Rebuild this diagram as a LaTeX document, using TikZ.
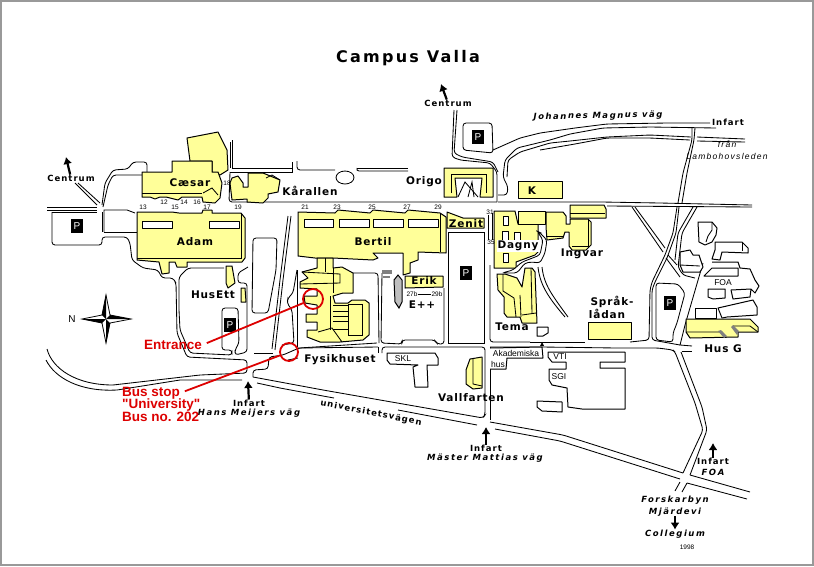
\documentclass[tikz,border=0pt]{standalone}
\usepackage{fontspec}
\setmainfont{Liberation Sans}
\newfontfamily\kartfont[LetterSpace=8]{DejaVu Sans}
\newfontfamily\rubrikfont[LetterSpace=14]{DejaVu Sans}
\newfontfamily\kartsmall[LetterSpace=12]{DejaVu Sans}
\newfontfamily\kartkursiv[LetterSpace=18]{DejaVu Sans}
\newfontfamily\kartthin[LetterSpace=15]{Liberation Sans}
\newfontfamily\rodfont{Liberation Sans}
\definecolor{husgul}{HTML}{FFFF99}
\definecolor{ramgra}{HTML}{999999}
\definecolor{pekrod}{HTML}{DD0000}
\tikzset{
  hus/.style={draw=black,fill=husgul,line width=1pt,line join=round},
  vit/.style={draw=black,fill=white,line width=1pt,line join=round},
  vag/.style={draw=black,line width=0.85pt,rounded corners=3pt},
  linje/.style={draw=black,line width=0.85pt},
  namn/.style={inner sep=0pt,font=\kartfont\bfseries\fontsize{10.5}{13}\selectfont},
  liten/.style={inner sep=0pt,font=\kartsmall\bfseries\fontsize{8.5}{11}\selectfont},
  kursiv/.style={inner sep=0pt,font=\kartkursiv\bfseries\itshape\fontsize{8.5}{11}\selectfont},
  tunn/.style={inner sep=0pt,font=\fontsize{8.5}{10}\selectfont},
  nummer/.style={inner sep=0pt,font=\fontsize{6.5}{8}\selectfont},
  pekare/.style={inner sep=0pt,text=pekrod,font=\rodfont\bfseries\fontsize{13.5}{15}\selectfont},
  ring/.style={circle,draw=pekrod,line width=1.8pt,inner sep=0pt},
  pekline/.style={draw=pekrod,line width=1.8pt,shorten <=5pt},
  pil/.style={draw=black,line width=2.2pt,-{Latex[length=7pt,width=9pt]}},
  pruta/.style={fill=black,text=white,inner sep=0pt,minimum width=12pt,minimum height=14pt,font=\fontsize{10}{12}\selectfont}
}
\usetikzlibrary{arrows.meta}
\begin{document}
\begin{tikzpicture}[x=1pt,y=-1pt]
\useasboundingbox (0,0) rectangle (814,566);
\fill[white] (0,0) rectangle (814,566);
\draw[ramgra,line width=2pt] (1,1) rectangle (813,565);
% vagar vaster
\draw[linje] (47,207) -- (97,207);
\draw[linje] (47,210) -- (97,210);
\draw[linje] (75,183) -- (97,205);
\draw[linje] (78,183) -- (100,203);
\draw[vag] (102,205) -- (105,183) -- (113,170) -- (128,169) -- (133,162) -- (147,162) -- (147,172);
\draw[vag] (103,207) -- (108,185) -- (113,175) -- (142,175);
\draw[vag] (52,212) -- (97,212);
\draw[vag] (52,212) -- (52,245) -- (102,245) -- (102,237) -- (127,237) -- (130,243) -- (132,260) -- (143,268) -- (158,270) -- (162,278) -- (173,278) -- (176,283) -- (177,333) -- (187,357) -- (247,360) -- (247,373) -- (200,375) -- (113,385);
\draw[linje] (113,385) .. controls (75,385) and (52,368) .. (47,349);
\draw[linje] (102,212) -- (102,232);
\draw[linje] (104,232) -- (104,210) -- (127,210) -- (135,213);
\draw[linje] (104,232) -- (137,232);
\draw[linje] (46,360) .. controls (55,378) and (80,392) .. (117,390) -- (180,380) -- (242,380);
% vagar norr
\draw[linje] (230,142) -- (230,168);
\draw[linje] (232,140) -- (232,168) -- (293,168);
\draw[vag] (230,172) -- (229,202) -- (280,202) -- (497,202);
\draw[linje] (230,172) -- (293,172);
\draw[linje] (292,162) -- (292,172);
\draw[vag] (297,161) -- (297,170) -- (335,170);
\draw[vag] (357,168) -- (356,171) -- (408,171);
\draw[linje] (357,168) -- (408,168);
\draw[linje] (345,177.5) ellipse (9 and 6.5);
\draw[vag] (454,110) -- (452,157) -- (460,160) -- (490,163) -- (497,172) -- (497,202);
\draw[vag] (457,110) -- (454,153) -- (462,157) -- (493,162) -- (498,172);
\draw[vag] (463,123) -- (492,123) -- (493,153) -- (463,150) -- cycle;
\draw[vag] (493,150) -- (520,138) -- (540,133) -- (575,128) -- (607,124) -- (667,123) -- (710,123);
\draw[vag] (716,128) -- (650,127) -- (603,128) -- (570,134) -- (550,140) -- (517,148) -- (505,160) -- (503,177) -- (508,187) -- (507,195) -- (498,195);
\draw[vag] (691,137) -- (650,135) -- (607,137) -- (570,141) -- (550,143) -- (520,152) -- (508,160) -- (507,177);
\draw[vag] (690,140) -- (650,138) -- (607,138) -- (575,144) -- (540,150);
\draw[linje] (697,137) -- (745,139);
\draw[linje] (697,141) -- (745,142);
\draw[vag] (498,202) -- (602,202) -- (660,203) -- (752,205);
\draw[vag] (607,206) -- (752,207);
% vagar oster
\draw[vag] (692,128) -- (692,140) -- (683,173) -- (678,203);
\draw[vag] (695,128) -- (694,140) -- (687,173) -- (682,203);
\draw[vag] (677,207) -- (673,233) -- (665,255) -- (652,282) -- (650,290) -- (649,340) -- (630,342);
\draw[vag] (679,207) -- (676,233) -- (667,258) -- (655,282) -- (652,290) -- (652,340) -- (680,345);
\draw[linje] (632,207) -- (663,252);
\draw[linje] (635,207) -- (665,248);
\draw[vag] (693,207) -- (678,233) -- (675,260);
\draw[vag] (697,207) -- (682,233) -- (678,267) -- (683,275) -- (695,278);
\draw[linje] (668,255) -- (677,265);
\draw[linje] (666,258) -- (680,277);
\draw[vag] (656,283) -- (678,284) -- (685,293) -- (677,323) -- (673,333) -- (673,342) -- (656,340) -- cycle;
\draw[linje] (703,263) -- (685,325) -- (680,345) -- (692,346);
\draw[linje] (682,351) -- (692,351);
\draw[vag] (530,342) -- (585,342);
\draw[vag] (490,347) -- (542,347) -- (617,348) -- (658,348) -- (673,350) -- (675,352) -- (695,403) -- (703,430) -- (683,473);
\draw[vag] (681,352) -- (702,407) -- (707,430) -- (690,475);
% vagar soder
\draw[vag] (280,382) -- (323,390) -- (483,418) -- (485,415) -- (485,347) -- (382,347) -- (382,353);
\draw[vag] (280,388) -- (323,396) -- (334,398);
\draw[linje] (398,410) -- (477,425);
\draw[vag] (490,422) -- (563,435) -- (683,473);
\draw[vag] (495,429) -- (560,441) -- (680,479);
\draw[linje] (690,475) -- (750,492);
\draw[linje] (687,483) -- (747,499);
\draw[linje] (680,482) -- (675,491);
\draw[linje] (687,483) -- (682,492);
\draw[vag] (490,420) -- (490,347);
\draw[vag] (490,265) -- (490,342) -- (530,342);
\draw[linje] (253,377) -- (280,382);
\draw[linje] (257,383) -- (280,388);
\draw[vag] (253,377) -- (253,370) -- (268,369) -- (269,357) -- (283,355) -- (299,348) -- (377,343);
\draw[vag] (254,353) -- (273,353);
\draw[linje] (298,358) -- (288,360);
\draw[linje] (298,348) -- (378,347);
\draw[linje] (378,347) -- (378,353);
% vagar mitten
\draw[vag] (253,238) -- (277,238) -- (276,270) -- (268,313) -- (252,313) -- cycle;
\draw[linje] (288,216) -- (280,280) -- (272,349);
\draw[linje] (291,216) -- (283,280) -- (275,350);
\draw[vag] (179,310) -- (179,277) -- (188,268) -- (224,268);
\draw[vag] (179,310) -- (180,330) -- (190,353) -- (232,355) -- (232,350) -- (222,350) -- (222,308) -- (238,308) -- (239,343) -- (235,350) -- (235,355) -- (247,352) -- (247,283) -- (238,283) -- (238,273) -- (248,267);
\draw[vag] (353,273) -- (378,273) -- (379,343);
\draw[vag] (297,270) -- (293,293) -- (288,298) -- (287,303) -- (292,310) -- (294,343) -- (282,345);
\draw[vag] (297,270) -- (297,347);
\draw[vag] (382,273) -- (381,343) -- (402,344) -- (402,340) -- (435,340) -- (437,344) -- (444,344) -- (444,288);
\draw[linje] (448,232) rectangle (484,343);
\draw[linje] (488,215) -- (488,240);
\draw[linje] (492,213) -- (492,240);
% vit byggnader
\draw[vit] (387,353) -- (435,353) -- (438,358) -- (438,365) -- (427,365) -- (428,387) -- (415,387) -- (413,367) -- (418,365) -- (390,364) -- (387,360) -- cycle;
\draw[vit] (490,348) -- (542,347) -- (543,358) -- (507,358) -- (506,369) -- (490,369);
\draw[vit] (548,352) -- (625,352) -- (625,362) -- (600,362) -- (600,368) -- (625,368) -- (625,409) -- (582,409) -- (568,407) -- (567,388) -- (552,385) -- (549,380) -- (549,369) -- (566,369) -- (566,362) -- (552,362) -- (548,357) -- cycle;
\draw[vit] (537,401) -- (562,402) -- (562,412) -- (542,411) -- (537,407) -- cycle;
\draw[vit] (537,327) -- (548,327) -- (548,333) -- (543,336) -- (537,336) -- cycle;
\fill[black] (542,342) -- (540,346) -- (544,346) -- cycle;
% FOA
\draw[vit] (698,222) -- (712,222) -- (717,228) -- (716,235) -- (712,242) -- (705,245) -- (699,242) -- cycle;
\draw[linje] (712,222) -- (712,230) -- (708,236) -- (706,242);
\draw[vit] (715,242) -- (742,242) -- (748,248) -- (748,253) -- (722,252) -- (720,260) -- (712,259) -- (715,250) -- cycle;
\draw[linje] (742,242) -- (742,251);
\draw[vit] (680,252) -- (690,250) -- (693,255) -- (699,255) -- (703,267) -- (700,272) -- (683,272) -- (680,265) -- cycle;
\draw[linje] (680,265) -- (700,266);
\draw[vit] (712,262) -- (738,262) -- (740,268) -- (750,269) -- (755,280) -- (759,286) -- (755,293) -- (751,289) -- (731,290) -- (733,299) -- (750,297) -- (751,289);
\draw[vit] (704,276) -- (712,268) -- (738,268) -- (738,276) -- cycle;
\draw[vit] (708,289) -- (725,289) -- (725,298) -- (713,299) -- (708,297) -- cycle;
\draw[vit] (695,308) -- (716,308) -- (716,318) -- (695,318) -- cycle;
\draw[vit] (718,308) -- (753,300) -- (757,307) -- (757,315) -- (727,317) -- (722,318) -- cycle;
% gula hus
\draw[hus] (187,138) -- (218,132) -- (227,150) -- (228,170) -- (220,175) -- (212,172) -- (212,161) -- (190,161) -- cycle;
\draw[hus] (142,172) -- (172,172) -- (172,161) -- (212,161) -- (212,172) -- (218,172) -- (222,183) -- (220,198) -- (215,203) -- (203,202) -- (202,197) -- (182,197) -- (178,200) -- (170,198) -- (166,197) -- (160,197) -- (155,199) -- (150,197) -- (147,197) -- (142,197) -- cycle;
\draw[linje] (142,193) -- (202,193);
\draw[linje] (203,193) -- (212,188) -- (218,195);
\draw[hus] (232,178) -- (238,176) -- (243,183) -- (243,187) -- (248,187) -- (248,173) -- (263,173) -- (280,180) -- (278,192) -- (268,194) -- (268,198) -- (263,203) -- (247,202) -- (247,199) -- (232,200) -- (230,183) -- cycle;
\draw[linje] (266,178) -- (272,175) -- (280,180);
\draw[hus] (137,212) -- (172,212) -- (179,213) -- (202,213) -- (203,210) -- (212,210) -- (212,213) -- (241,213) -- (245,218) -- (245,258) -- (242,262) -- (187,262) -- (187,267) -- (177,267) -- (175,262) -- (169,262) -- (169,273) -- (162,274) -- (159,262) -- (137,260) -- cycle;
\draw[linje] (137,258) -- (241,258) -- (241,213);
\draw[vit] (142,221) rectangle (172,228);
\draw[vit] (209,221) rectangle (239,228);
\draw[hus] (226,266) -- (232,266) -- (235,283) -- (228,288) -- (226,283) -- cycle;
\draw[hus] (241,288) -- (245,288) -- (246,302) -- (241,302) -- cycle;
\draw[hus] (298,212) -- (335,213) -- (338,210) -- (370,213) -- (373,210) -- (405,213) -- (408,210) -- (440,213) -- (446,217) -- (446,253) -- (418,252) -- (418,260) -- (410,263) -- (410,273) -- (403,275) -- (403,253) -- (373,253) -- (378,258) -- (373,260) -- (333,258) -- (315,258) -- (298,256) -- cycle;
\draw[linje] (440,213) -- (440,252);
\draw[vit] (304,219) rectangle (333,227);
\draw[vit] (339,219) rectangle (369,227);
\draw[vit] (373,219) rectangle (403,227);
\draw[vit] (408,219) rectangle (438,227);
% Fysikhuset
\draw[hus] (317,258) -- (333,258) -- (333,268) -- (342,267) -- (353,273) -- (353,293) -- (343,293) -- (333,296) -- (335,303) -- (348,303) -- (352,300) -- (365,300) -- (369,303) -- (369,335) -- (363,340) -- (340,342) -- (320,342) -- (307,337) -- (307,330) -- (317,330) -- (317,322) -- (306,322) -- (306,314) -- (317,314) -- (317,305) -- (305,303) -- (304,296) -- (317,296) -- (317,289) -- (300,288) -- (300,282) -- (308,278) -- (302,272) -- (317,268) -- cycle;
\draw[linje] (302,272) -- (340,274) -- (340,283) -- (300,284);
\draw[linje] (325,258) -- (325,272);
\draw[linje] (333,268) -- (333,293);
\draw[linje] (330,296) -- (330,330);
\draw[linje] (333,305) -- (348,305);
\draw[linje] (333,311) -- (348,311);
\draw[linje] (333,316) -- (348,316);
\draw[linje] (333,321) -- (348,321);
\draw[linje] (333,329) -- (348,329);
\draw[linje] (348,304) rectangle (362,335);
\draw[linje] (318,332) -- (332,328) -- (342,342);
\draw[hus] (405,276) -- (443,276) -- (443,287) -- (405,288) -- cycle;
\draw[fill=lightgray,line width=1pt] (394,280) -- (398,275) -- (402,280) -- (402,302) -- (399,308) -- (395,302) -- cycle;
\draw[fill=gray,draw=none] (382,270) rectangle (392,274);
\draw[fill=gray,draw=none] (383,276) rectangle (390,278);
\draw[hus] (447,212) -- (463,218) -- (484,218) -- (484,228) -- (447,228) -- cycle;
\draw[hus] (444,168) -- (493,168) -- (493,197) -- (480,197) -- (482,178) -- (455,178) -- (457,197) -- (444,197) -- cycle;
\draw[linje] (451,193) -- (451,174) -- (486,174) -- (486,193);
\draw[linje] (458,197) -- (465,182) -- (478,197);
\draw[linje] (468,197) -- (472,182) -- (474,197);
\draw[hus] (518,181) rectangle (562,198);
\draw[hus] (494,211) -- (515,211) -- (518,224) -- (538,224) -- (538,252) -- (535,255) -- (516,262) -- (516,268) -- (494,268) -- cycle;
\draw[hus] (518,211) rectangle (545,224);
\draw[vit] (503,216) rectangle (508,225);
\draw[vit] (502,231) rectangle (508,240);
\draw[vit] (514,232) rectangle (520,240);
\draw[vit] (503,253) rectangle (508,262);
\draw[hus] (546,212) -- (563,212) -- (566,216) -- (566,224) -- (570,224) -- (570,219) -- (588,219) -- (591,222) -- (591,245) -- (586,250) -- (572,250) -- (569,246) -- (569,232) -- (565,232) -- (563,238) -- (547,240) -- (546,227) -- cycle;
\draw[hus] (570,205) -- (604,205) -- (606,209) -- (606,218) -- (570,218) -- cycle;
\draw[linje] (570,213) -- (605,213);
\draw[linje] (588,219) -- (588,246) -- (572,246);
\draw[linje] (546,236) -- (563,236);
\draw[hus] (497,274) -- (505,274) -- (517,278) -- (522,287) -- (525,268) -- (532,268) -- (535,272) -- (537,323) -- (522,323) -- (520,317) -- (507,317) -- (504,313) -- (504,297) -- (498,290) -- cycle;
\draw[linje] (503,274) -- (503,291) -- (514,298) -- (516,317);
\draw[linje] (520,295) -- (521,317);
\draw[linje] (522,315) -- (536,313);
\draw[linje] (531,268) -- (532,313);
\draw[hus] (588,322) rectangle (631,339);
\draw[hus] (686,319) -- (750,319) -- (758,327) -- (758,332) -- (738,332) -- (738,337) -- (690,338) -- (686,332) -- cycle;
\draw[linje] (686,332) -- (722,332) -- (726,337);
\draw[linje] (733,326) -- (750,326) -- (758,332);
\draw[linje] (733,326) -- (738,332);
\fill[gray] (718,331) -- (721,330) -- (727,336) -- (724,338) -- cycle;
\fill[gray] (731,327) -- (733,325) -- (739,331) -- (737,335) -- cycle;
\draw[hus] (470,359) -- (482,357) -- (482,388) -- (473,389) -- (466,384) -- (466,370) -- cycle;
\draw[linje] (473,359) -- (473,384) -- (482,386);
% kurvor vid Dagny
\draw[vag,fill=white] (539,232) -- (547,240) -- (545,253) -- (540,263) -- (532,262) -- (525,263) -- (517,273) -- (502,273) -- (513,270) -- (522,262) -- (530,259) -- (540,255) -- (543,240) -- (537,231) -- cycle;
\draw[linje] (538,267) .. controls (540,285) and (548,297) .. (565,317);
\draw[linje] (542,267) .. controls (544,285) and (552,295) .. (568,317);
% namn
\node[font=\rubrikfont\bfseries\fontsize{16}{18}\selectfont,inner sep=0pt] (campus) at (408,58) {Campus Valla};
\node[liten] (centrumn) at (448,103) {Centrum};
\coordinate (centrumntip) at (441,84);
\draw[pil] (centrumn) -- (centrumntip);
\node[liten] (centrumv) at (71,178) {Centrum};
\coordinate (centrumvtip) at (66,157);
\draw[pil] (centrumv) -- (centrumvtip);
\node[kursiv,rotate=1] (magnus) at (598,116) {Johannes Magnus väg};
\node[liten] (infartn) at (728,122) {Infart};
\node[inner sep=0pt,font=\kartthin\itshape\fontsize{8.5}{10}\selectfont] (fran) at (727,144) {från};
\node[inner sep=0pt,font=\kartthin\itshape\fontsize{8.5}{10}\selectfont] (lambo) at (727,156) {Lambohovsleden};
\node[namn] (caesar) at (190,183) {Cæsar};
\node[namn] (adam) at (195,242) {Adam};
\node[namn] (husett) at (213,295) {HusEtt};
\node[namn] (karallen) at (310,191) {Kårallen};
\node[namn] (origo) at (424,182) {Origo};
\node[namn] (kbygg) at (532,191) {K};
\node[namn] (bertil) at (373,242) {Bertil};
\node[namn] (zenit) at (466,224) {Zenit};
\node[namn,fill=white,inner sep=1pt] (dagny) at (518,246) {Dagny};
\node[namn] (erik) at (424,281) {Erik};
\node[namn] (ingvar) at (582,254) {Ingvar};
\node[namn] (tema) at (512,327) {Tema};
\node[namn] (sprak) at (612,302) {Språk-};
\node[namn] (ladan) at (607,314) {lådan};
\node[namn] (husg) at (723,349) {Hus G};
\node[namn] (eplus) at (422,305) {E++};
\node[namn] (fysik) at (340,360) {Fysikhuset};
\node[namn] (vallfarten) at (471,398) {Vallfarten};
\node[tunn] (skl) at (403,359) {SKL};
\node[tunn] (akademiska) at (516,353) {Akademiska};
\node[tunn] (akhus) at (498,364) {hus};
\node[tunn] (vti) at (560,357) {VTI};
\node[tunn] (sgi) at (559,377) {SGI};
\node[tunn] (foa) at (723,283) {FOA};
\node[liten,rotate=-11] (univ) at (371,413) {universitetsvägen};
\node[liten] (infartm) at (249,403) {Infart};
\node[kursiv] (hans) at (249,413) {Hans Meijers väg};
\coordinate (infartmtip) at (248,381);
\draw[pil] (infartm) -- (infartmtip);
\node[liten] (infartt) at (486,448) {Infart};
\node[kursiv] (master) at (485,458) {Mäster Mattias väg};
\coordinate (infartttip) at (486,427);
\draw[pil] (infartt) -- (infartttip);
\node[liten] (infartf) at (713,461) {Infart};
\node[kursiv] (foaroad) at (713,472) {FOA};
\coordinate (infartftip) at (713,443);
\draw[pil] (infartf) -- (infartftip);
\node[kursiv] (forskar) at (675,500) {Forskarbyn};
\node[kursiv] (mjardevi) at (675,512) {Mjärdevi};
\node[kursiv] (collegium) at (675,534) {Collegium};
\draw[pil] (mjardevi) -- (collegium);
\node[nummer] (ar) at (687,547) {1998};
% nummer
\node[nummer] (n13) at (143,207) {13};
\node[nummer] (n12) at (164,202) {12};
\node[nummer] (n15) at (175,207) {15};
\node[nummer] (n14) at (184,202) {14};
\node[nummer] (n16) at (197,202) {16};
\node[nummer] (n17) at (207,207) {17};
\node[nummer] (n18) at (227,183) {18};
\node[nummer] (n19) at (238,207) {19};
\node[nummer] (n21) at (305,207) {21};
\node[nummer] (n23) at (337,207) {23};
\node[nummer] (n25) at (372,207) {25};
\node[nummer] (n27) at (407,207) {27};
\node[nummer] (n29) at (438,207) {29};
\node[nummer] (n31) at (490,212) {31};
\node[nummer] (n35) at (491,242) {35};
\node[nummer] (n27b) at (412,294) {27b};
\node[nummer] (n29b) at (437,294) {29b};
\draw[linje] (n27b) -- (n29b);
% P
\node[pruta] (pv) at (77,226) {P};
\node[pruta] (pn) at (478,137) {P};
\node[pruta] (pz) at (466,273) {P};
\node[pruta] (pe) at (670,303) {P};
\node[pruta] (ph) at (230,325) {P};
% kompass
\draw[line width=0.8pt,fill=white] (106,295) -- (110,315) -- (131,319) -- (110,323) -- (106,343) -- (102,323) -- (82,319) -- (102,315) -- cycle;
\fill[black] (106,295) -- (102,315) -- (106,319) -- cycle;
\fill[black] (131,319) -- (110,315) -- (106,319) -- cycle;
\fill[black] (106,343) -- (110,323) -- (106,319) -- cycle;
\fill[black] (82,319) -- (102,323) -- (106,319) -- cycle;
\node[tunn,font=\fontsize{10}{12}\selectfont] (norr) at (72,319) {N};
% rod text
\node[ring,minimum size=20pt] (ringentre) at (313,299) {};
\node[ring,minimum size=18pt] (ringbuss) at (289,352) {};
\node[pekare,anchor=west] (entrance) at (144,345) {Entrance};
\node[pekare,anchor=west] (busstop) at (122,393) {Bus stop};
\node[pekare,anchor=west] (university) at (122,405) {"University"};
\node[pekare,anchor=west] (busno) at (122,417) {Bus no. 202};
\draw[pekline] (entrance.east) -- (ringentre);
\draw[pekline] (busstop.east) -- (ringbuss);
\end{tikzpicture}
\end{document}
